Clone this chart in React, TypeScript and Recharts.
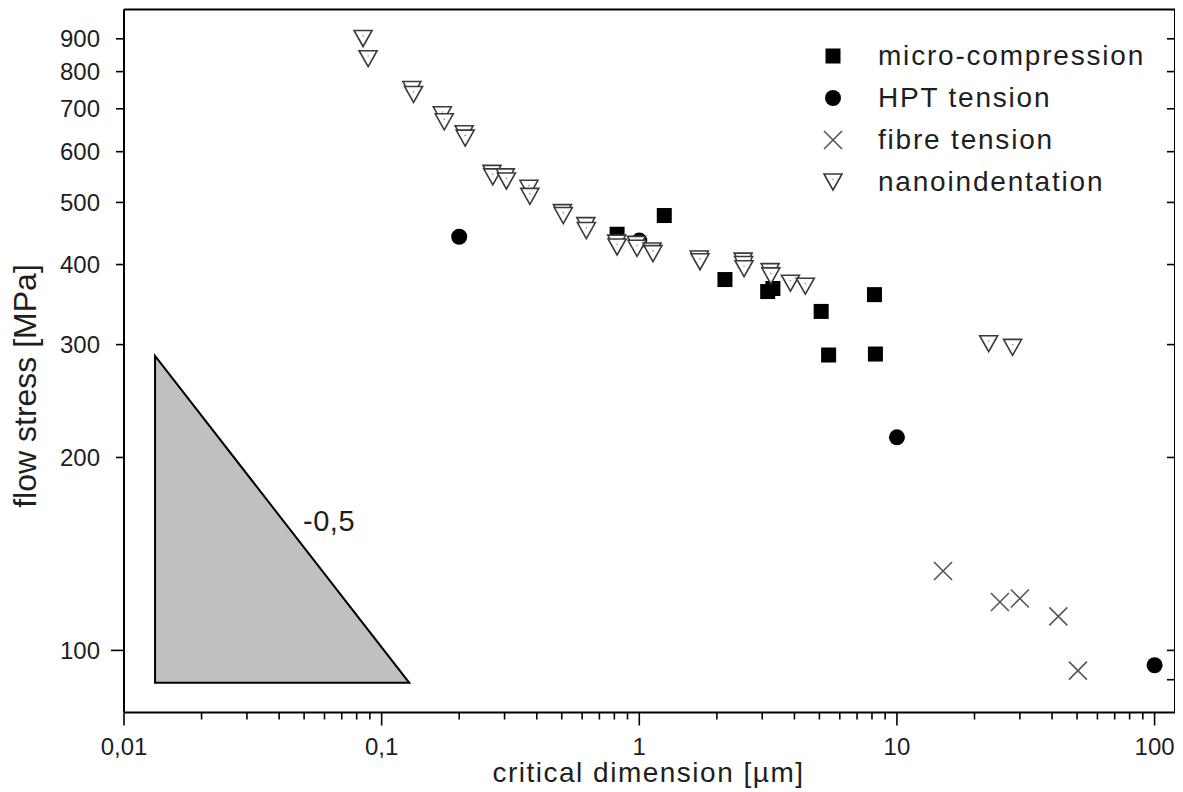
import React from 'react';
import { ScatterChart, Scatter, XAxis, YAxis, ReferenceArea, ReferenceDot, Legend } from 'recharts';

const FONT = '"Liberation Sans", Arial, Helvetica, sans-serif';
const TEXT = '#1e1e1e';

// ---- data (critical dimension [µm], flow stress [MPa]) ----
const microX = [0.82, 1.25, 2.15, 3.15, 3.3, 5.08, 5.43, 8.18, 8.25];
const microY = [446, 477, 379, 363, 367, 338, 289, 359, 290];

const hptX = [0.2, 1.0, 10, 100];
const hptY = [442, 436, 215, 94.8];

const fibreX = [15.1, 25.1, 30.0, 42.3, 50.4];
const fibreY = [133, 119, 120.5, 113, 93];

const nanoX = [0.0847, 0.0886, 0.131, 0.133, 0.172, 0.175, 0.209, 0.211, 0.268, 0.27, 0.302, 0.305, 0.373, 0.376, 0.503, 0.507, 0.62, 0.623, 0.817, 0.82, 0.975, 0.98, 1.12, 1.13, 1.71, 1.72, 2.53, 2.54, 2.55, 3.22, 3.24, 3.86, 4.41, 22.7, 28.1];
const nanoY = [901, 838, 750, 737, 685, 668, 640, 630, 555, 548, 548, 540, 526, 511, 482, 477, 460, 452, 432, 426, 430, 424, 420, 416, 408, 404, 405, 400, 394, 390, 384, 374, 370, 301, 297];

// slope triangle (-0,5) corners
const slopeX = [0.0132, 0.128];
const slopeY = [89, 288];
const slopeLabelX = 0.0625;
const slopeLabelY = 159;
const slopeLabel = '-0,5';

// ---- axes ----
const X_DOMAIN = [0.01, 120];
const Y_DOMAIN = [80, 1000];
const xMajorTicks = [0.01, 0.1, 1, 10, 100];
const xMajorLabels = ['0,01', '0,1', '1', '10', '100'];
const xMinorTicks = [0.02, 0.03, 0.04, 0.05, 0.06, 0.07, 0.08, 0.09, 0.2, 0.3, 0.4, 0.5, 0.6, 0.7, 0.8, 0.9, 2, 3, 4, 5, 6, 7, 8, 9, 20, 30, 40, 50, 60, 70, 80, 90];
const xAllTicks = [...xMajorTicks, ...xMinorTicks].sort((a, b) => a - b);
const yLeftTicks = [100, 200, 300, 400, 500, 600, 700, 800, 900];
const yMajorTicks = [100];
const yRightTicks = [90, 100, 200, 300, 400, 500, 600, 700, 800, 900];

const seriesNames = ['micro-compression', 'HPT tension', 'fibre tension', 'nanoindentation'];

const toPoints = (xs: number[], ys: number[]) => xs.map((x, i) => ({ x, y: ys[i] }));
const microData = toPoints(microX, microY);
const hptData = toPoints(hptX, hptY);
const fibreData = toPoints(fibreX, fibreY);
const nanoData = toPoints(nanoX, nanoY);

// ---- markers ----
const SquareMark = ({ cx, cy }: any) => <rect x={cx - 7.5} y={cy - 7.5} width={15} height={15} fill="#000" />;
const CircleMark = ({ cx, cy }: any) => <circle cx={cx} cy={cy} r={8} fill="#000" />;
const CrossMark = ({ cx, cy }: any) => (
  <path d={`M${cx - 9},${cy - 9}L${cx + 9},${cy + 9}M${cx + 9},${cy - 9}L${cx - 9},${cy + 9}`} stroke="#555" strokeWidth={1.6} fill="none" />
);
const TriMark = ({ cx, cy }: any) => (
  <g>
    <path d={`M${cx - 9},${cy - 8}L${cx + 9},${cy - 8}L${cx},${cy + 8}Z`} fill="#fff" stroke="#3a3a3a" strokeWidth={1.6} />
    <circle cx={cx} cy={cy - 2.7} r={0.8} fill="#888" />
  </g>
);
const markers = [SquareMark, CircleMark, CrossMark, TriMark];

// ---- ticks ----
const BottomTick = (p: any) => {
  const v = p.payload.value;
  const i = xMajorTicks.indexOf(v);
  const major = i >= 0;
  return (
    <g>
      <line x1={p.x} x2={p.x} y1={p.y} y2={p.y + (major ? 13 : 7)} stroke="#000" strokeWidth={1.6} />
      {major && (
        <text x={p.x} y={p.y + 42} textAnchor="middle" fontSize={24} fontFamily={FONT} fill={TEXT}>
          {xMajorLabels[i]}
        </text>
      )}
    </g>
  );
};
const TopTick = (p: any) => {
  const major = xMajorTicks.indexOf(p.payload.value) >= 0;
  return <line x1={p.x} x2={p.x} y1={p.y} y2={p.y + (major ? 14 : 7)} stroke="#000" strokeWidth={1.6} />;
};
const LeftTick = (p: any) => {
  const v = p.payload.value;
  const major = yMajorTicks.indexOf(v) >= 0;
  return (
    <g>
      <line x1={p.x} x2={p.x - (major ? 13 : 8)} y1={p.y} y2={p.y} stroke="#000" strokeWidth={1.6} />
      <text x={p.x - 24} y={p.y + 8.5} textAnchor="end" fontSize={24} fontFamily={FONT} fill={TEXT}>
        {String(v)}
      </text>
    </g>
  );
};
const RightTick = (p: any) => <line x1={p.x} x2={p.x - 8} y1={p.y} y2={p.y} stroke="#000" strokeWidth={1.6} />;

const LegendBox = () => (
  <div style={{ fontFamily: FONT, fontSize: 28, letterSpacing: 1.8, color: TEXT }}>
    {seriesNames.map((name, i) => {
      const M = markers[i];
      return (
        <div key={name} style={{ display: 'flex', alignItems: 'center', height: 42, whiteSpace: 'nowrap' }}>
          <svg width={24} height={24} style={{ marginRight: 33, overflow: 'visible' }}>
            <M cx={12} cy={12} />
          </svg>
          <span>{name}</span>
        </div>
      );
    })}
  </div>
);

export default function App() {
  return (
    <div style={{ width: 1175, height: 784 }}>
      <ScatterChart width={1175} height={784} margin={{ top: 0.5, right: 7, bottom: 0, left: 0 }}>
        <XAxis
          xAxisId="b"
          dataKey="x"
          type="number"
          scale="log"
          domain={X_DOMAIN}
          allowDataOverflow
          ticks={xAllTicks}
          interval={0}
          tickSize={0}
          tickMargin={0}
          tickLine={false}
          tick={(p: any) => <BottomTick {...p} />}
          height={79.5}
          axisLine={{ stroke: '#000', strokeWidth: 2 }}
          label={(p: any) => {
            const vb = p.viewBox;
            return (
              <text x={vb.x + vb.width / 2 - 1} y={vb.y + 69.5} textAnchor="middle" fontSize={28} letterSpacing={1.5} fontFamily={FONT} fill={TEXT}>
                critical dimension [µm]
              </text>
            );
          }}
        />
        <XAxis
          xAxisId="t"
          orientation="top"
          type="number"
          scale="log"
          domain={X_DOMAIN}
          allowDataOverflow
          ticks={xAllTicks}
          interval={0}
          tickSize={0}
          tickMargin={0}
          tickLine={false}
          tick={(p: any) => <TopTick {...p} />}
          height={1}
          axisLine={{ stroke: '#000', strokeWidth: 2 }}
        />
        <YAxis
          yAxisId="l"
          dataKey="y"
          type="number"
          scale="log"
          domain={Y_DOMAIN}
          allowDataOverflow
          ticks={yLeftTicks}
          interval={0}
          tickSize={0}
          tickMargin={0}
          tickLine={false}
          tick={(p: any) => <LeftTick {...p} />}
          width={116}
          axisLine={{ stroke: '#000', strokeWidth: 2 }}
          label={(p: any) => {
            const vb = p.viewBox;
            const cx = 17;
            const cy = vb.y + vb.height / 2 + 25;
            return (
              <text x={cx} y={cy} transform={`rotate(-90 ${cx} ${cy})`} textAnchor="middle" dominantBaseline="central" fontSize={32} fontFamily={FONT} fill={TEXT}>
                flow stress [MPa]
              </text>
            );
          }}
        />
        <YAxis
          yAxisId="r"
          orientation="right"
          type="number"
          scale="log"
          domain={Y_DOMAIN}
          allowDataOverflow
          ticks={yRightTicks}
          interval={0}
          tickSize={0}
          tickMargin={0}
          tickLine={false}
          tick={(p: any) => <RightTick {...p} />}
          width={1}
          axisLine={{ stroke: '#000', strokeWidth: 2 }}
        />
        <ReferenceArea
          xAxisId="b"
          yAxisId="l"
          x1={slopeX[0]}
          x2={slopeX[1]}
          y1={slopeY[0]}
          y2={slopeY[1]}
          shape={(p: any) => (
            <polygon
              points={`${p.x},${p.y} ${p.x},${p.y + p.height} ${p.x + p.width},${p.y + p.height}`}
              fill="#c0c0c0"
              stroke="#000"
              strokeWidth={2}
            />
          )}
        />
        <ReferenceDot
          xAxisId="b"
          yAxisId="l"
          x={slopeLabelX}
          y={slopeLabelY}
          r={0}
          shape={(p: any) => (
            <text x={p.cx} y={p.cy + 10} textAnchor="middle" fontSize={29} letterSpacing={0.5} fontFamily={FONT} fill={TEXT}>
              {slopeLabel}
            </text>
          )}
        />
        <Scatter name={seriesNames[0]} data={microData} xAxisId="b" yAxisId="l" isAnimationActive={false} shape={(p: any) => <SquareMark cx={p.cx} cy={p.cy} />} />
        <Scatter name={seriesNames[1]} data={hptData} xAxisId="b" yAxisId="l" isAnimationActive={false} shape={(p: any) => <CircleMark cx={p.cx} cy={p.cy} />} />
        <Scatter name={seriesNames[2]} data={fibreData} xAxisId="b" yAxisId="l" isAnimationActive={false} shape={(p: any) => <CrossMark cx={p.cx} cy={p.cy} />} />
        <Scatter name={seriesNames[3]} data={nanoData} xAxisId="b" yAxisId="l" isAnimationActive={false} shape={(p: any) => <TriMark cx={p.cx} cy={p.cy} />} />
        <Legend
          layout="vertical"
          align="center"
          verticalAlign="middle"
          wrapperStyle={{ left: 813, top: 27, width: 350, height: 'auto' }}
          content={() => <LegendBox />}
        />
      </ScatterChart>
    </div>
  );
}
